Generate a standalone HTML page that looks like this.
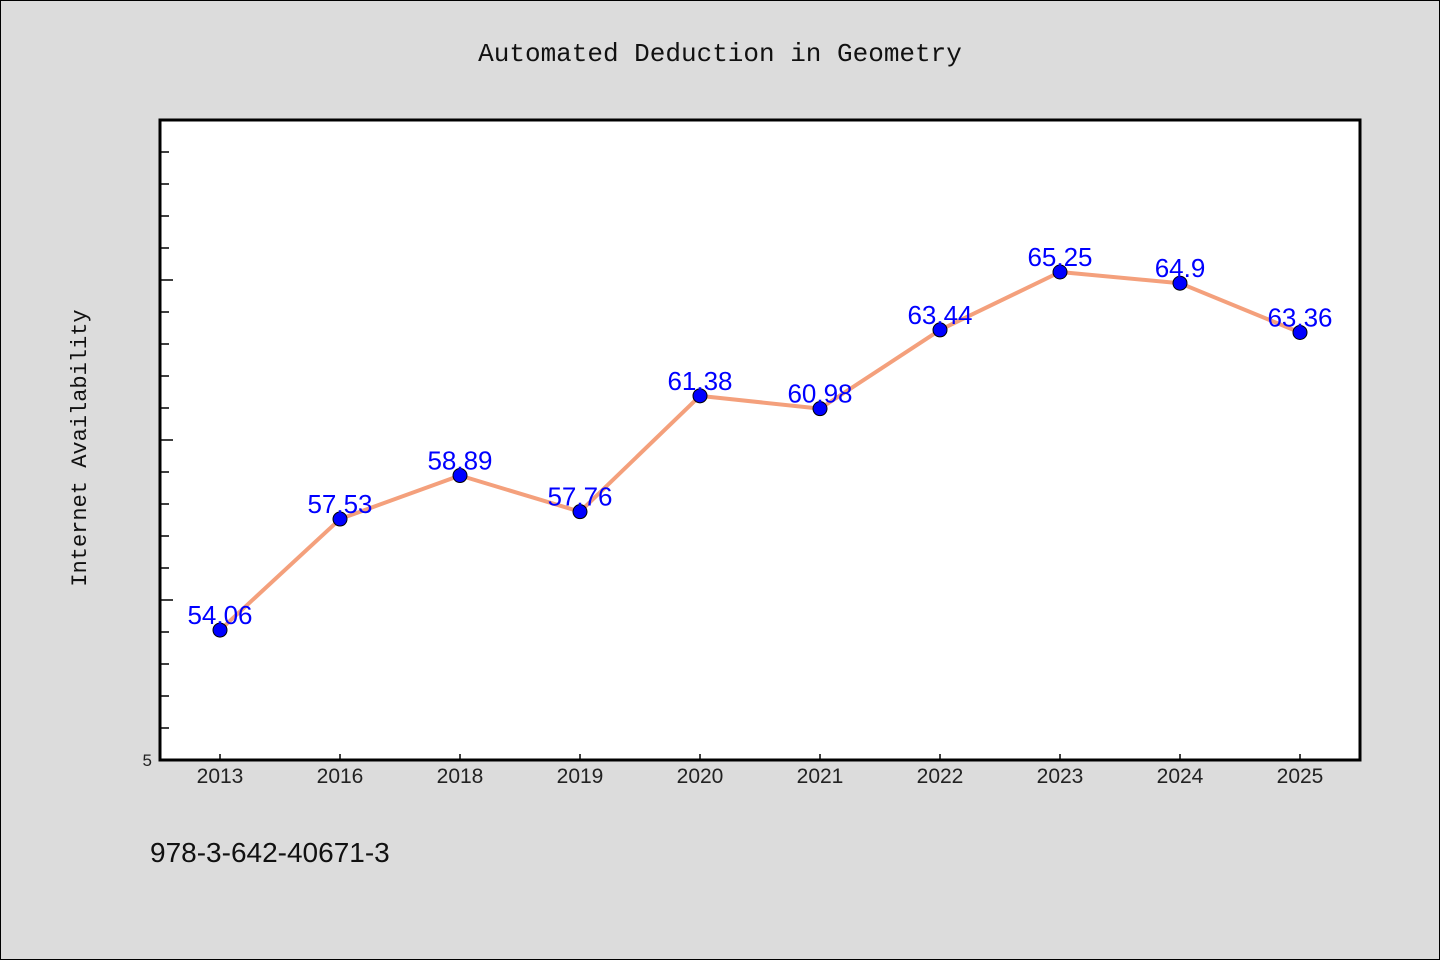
<!DOCTYPE html>
<html><head><meta charset="utf-8"><style>
body{margin:0;background:#dcdcdc;}
svg{display:block;font-family:"Liberation Mono","Noto Sans CJK SC",monospace;}
</style></head><body>
<svg width="1440" height="960">
<rect x="0.5" y="0.5" width="1439" height="959" fill="#dcdcdc" stroke="#000"/>
<text x="720" y="61" text-anchor="middle" font-size="26" fill="#111">Automated Deduction in Geometry</text>
<rect x="160" y="120" width="1200" height="640" fill="#fff"/>
<g id="ticks"></g>
<g id="series"></g>
<rect x="160" y="120" width="1200" height="640" fill="none" stroke="#000" stroke-width="3"/>
<text x="86" y="448" text-anchor="middle" font-size="22" fill="#111" transform="rotate(-90 86 448)">Internet Availability</text>
<text x="152" y="766" text-anchor="end" font-family="Liberation Sans" font-size="17" fill="#222">5</text>
<text x="150" y="862" font-family="Liberation Sans" font-size="28" fill="#111">978-3-642-40671-3</text>
</svg>
<script>
const categories=["2013","2016","2018","2019","2020","2021","2022","2023","2024","2025"];
const values=[54.06,57.53,58.89,57.76,61.38,60.98,63.44,65.25,64.9,63.36];
const labels=["54.06","57.53","58.89","57.76","61.38","60.98","63.44","65.25","64.9","63.36"];
const yMin=50,yMax=70;
const L=160,R=1360,T=120,B=760;
const xs=i=>L+60+i*(R-L-120)/(categories.length-1);
const ys=v=>B-(v-yMin)/(yMax-yMin)*(B-T);
const NS="http://www.w3.org/2000/svg";
const tg=document.getElementById('ticks'),sg=document.getElementById('series');
function mk(t,a,p){const e=document.createElementNS(NS,t);for(const k in a)e.setAttribute(k,a[k]);p.appendChild(e);return e;}
for(let v=yMin+1;v<yMax;v++){
 const y=ys(v),len=(v%5===0)?13:9;
 const t=mk('line',{x1:L,x2:L+len,y1:y,y2:y,stroke:'#000','stroke-width':1.5},tg);
 
 
}
categories.forEach((c,i)=>{
 const x=xs(i);
 const t=mk('line',{x1:x,x2:x,y1:B,y2:B-6,stroke:'#000','stroke-width':1.5},tg);
 
 
 const l=mk('text',{x:x,y:783,'text-anchor':'middle','font-size':21,fill:'#222','font-family':'Liberation Sans'},tg);
 l.textContent=c;
 
 
});
const pl=mk('polyline',{points:values.map((v,i)=>xs(i)+','+ys(v)).join(' '),fill:'none',stroke:'#f4a07c','stroke-width':4,'stroke-linejoin':'round'},sg);


values.forEach((v,i)=>{
 const c=mk('circle',{cx:xs(i),cy:ys(v),r:7,fill:'#0000ff',stroke:'#000','stroke-width':1},sg);
 
 
 const t=mk('text',{x:xs(i),y:ys(v)-6,'text-anchor':'middle','font-size':26,fill:'#0000ff','font-family':'Liberation Sans'},sg);
 t.textContent=labels[i];
 
 
});
</script>
</body></html>
